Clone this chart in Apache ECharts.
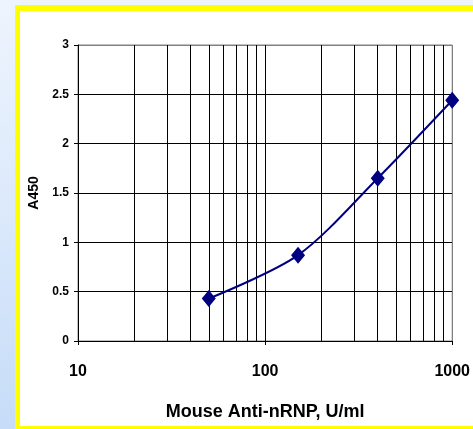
<!DOCTYPE html>
<html>
<head>
<meta charset="utf-8">
<script src="https://cdn.jsdelivr.net/npm/echarts@6/dist/echarts.min.js"></script>
<style>
html,body{margin:0;padding:0;width:473px;height:429px;overflow:hidden;}
body{background:linear-gradient(to bottom,#eef4fd 0%,#dbe9fb 50%,#c6dcf8 100%);position:relative;}
#frame{position:absolute;left:15px;top:5px;width:480px;height:415px;background:#fff;border-top:6px solid #ffff00;border-left:5px solid #ffff00;border-bottom:6px solid #ffff00;}
#chart{position:absolute;left:0;top:0;width:473px;height:429px;}
</style>
</head>
<body>
<div id="frame"></div>
<div id="chart"></div>
<script>
const concentrations = [50, 150, 400, 1000];
const absorbance = [0.43, 0.87, 1.65, 2.44];
const minorGridValues = [20, 30, 40, 50, 60, 70, 80, 90, 200, 300, 400, 500, 600, 700, 800, 900];
const xAxisTitle = 'Mouse Anti-nRNP, U/ml';
const yAxisTitle = 'A450';

const chart = echarts.init(document.getElementById('chart'), null, {renderer: 'canvas'});
const font = 'Liberation Sans, Arial, sans-serif';
chart.setOption({
  backgroundColor: 'transparent',
  animation: false,
  grid: {left: 78, top: 45, right: 15, bottom: 88, show: true, borderColor: '#808080', borderWidth: 1, backgroundColor: 'transparent'},
  xAxis: {
    type: 'log', logBase: 10, min: 10, max: 1000,
    name: xAxisTitle, nameLocation: 'middle', nameGap: 62,
    nameTextStyle: {fontFamily: font, fontWeight: 'bold', fontSize: 18, color: '#000'},
    axisLine: {show: true, lineStyle: {color: '#000', width: 1}},
    axisTick: {show: true, length: 4, lineStyle: {color: '#000'}},
    axisLabel: {fontFamily: font, fontWeight: 'bold', fontSize: 16, color: '#000', margin: 23,
      formatter: v => String(Math.round(v))},
    splitLine: {show: true, lineStyle: {color: ['#000', '#000', '#808080'], width: 1}}
  },
  yAxis: {
    type: 'value', min: 0, max: 3, interval: 0.5,
    name: yAxisTitle, nameLocation: 'middle', nameGap: 31, nameRotate: 90,
    nameTextStyle: {fontFamily: font, fontWeight: 'bold', fontSize: 14, color: '#000'},
    axisLine: {show: true, lineStyle: {color: '#000', width: 1}},
    axisTick: {show: true, length: 4, lineStyle: {color: '#000'}},
    axisLabel: {fontFamily: font, fontWeight: 'bold', fontSize: 12, color: '#000', margin: 9},
    splitLine: {show: true, lineStyle: {color: ['#000', '#000', '#000', '#000', '#000', '#000', '#808080'], width: 1}}
  },
  series: [{
    type: 'line',
    data: concentrations.map((c, i) => [c, absorbance[i]]),
    smooth: 0.3,
    symbol: 'diamond', symbolSize: [14, 17],
    itemStyle: {color: '#000080'},
    lineStyle: {color: '#000080', width: 2},
    z: 5,
    markLine: {
      silent: true, symbol: 'none', label: {show: false},
      lineStyle: {color: '#000', width: 1, type: 'solid'},
      data: minorGridValues.map(v => ({xAxis: v}))
    }
  }]
});
</script>
</body>
</html>
